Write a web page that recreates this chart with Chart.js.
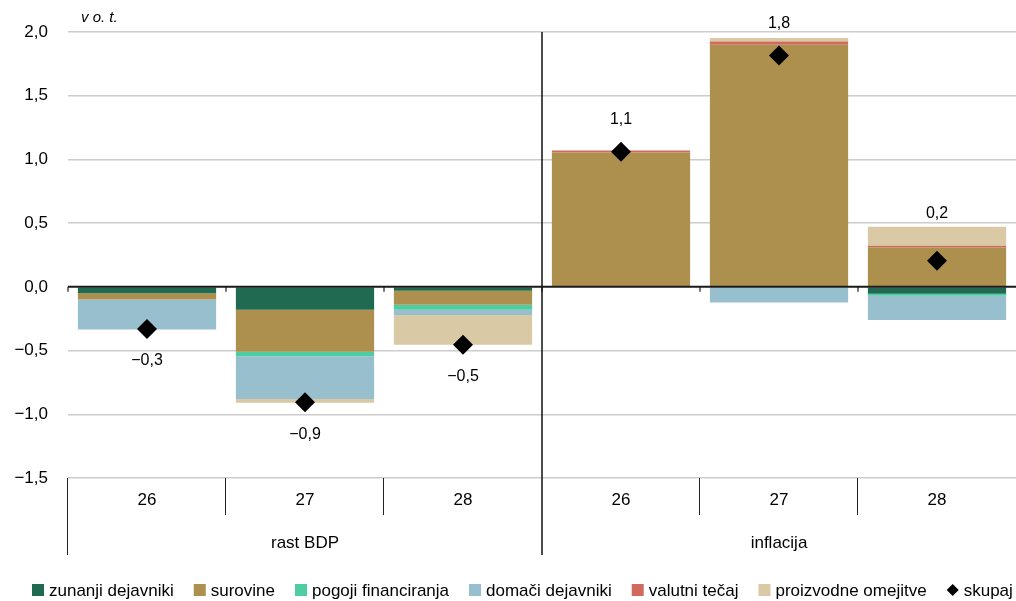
<!DOCTYPE html>
<html><head><meta charset="utf-8">
<script src="https://cdn.jsdelivr.net/npm/chart.js@4.4.1/dist/chart.umd.min.js"></script>
<style>html,body{margin:0;padding:0;background:#fff;overflow:hidden;} #wrap{width:1016px;height:601px;position:relative;}</style>
</head><body><div id="wrap"><canvas id="c"></canvas></div>
<script>
const categories = ['26', '27', '28', '26', '27', '28'];
const groups = ['rast BDP', 'inflacija'];
const yTicks = [-1.5, -1.0, -0.5, 0, 0.5, 1.0, 1.5, 2.0];
const unitLabel = 'v o. t.';

const zunanji    = [-0.05, -0.18,  -0.03,  0,     -0.005, -0.055];
const surovine   = [-0.05, -0.33,  -0.11,  1.055,  1.90,   0.31];
const pogoji     = [ 0,    -0.035, -0.04,  0,      0,     -0.015];
const domaci     = [-0.235,-0.335, -0.04,  0,     -0.118, -0.19];
const valutni    = [ 0,     0,      0,     0.015,  0.026,  0.012];
const proizvodne = [ 0,    -0.03,  -0.235, 0,      0.026,  0.15];
const skupaj     = [-0.33, -0.905, -0.455, 1.06,   1.815,  0.205];

const seriesNames = ['zunanji dejavniki', 'surovine', 'pogoji financiranja', 'domači dejavniki', 'valutni tečaj', 'proizvodne omejitve'];
const seriesColors = ['#1f6a50', '#ae904e', '#4ecda3', '#98bfce', '#d06a5c', '#d9c9a5'];
const totalName = 'skupaj';

const FONT = '"Liberation Sans", Arial, sans-serif';
const fmt = v => (v < -1e-9 ? '\u2212' : '') + Math.abs(v).toFixed(1).replace('.', ',');

const barSeries = [zunanji, surovine, pogoji, domaci, valutni, proizvodne];
const datasets = [{
  type: 'line', label: totalName, data: skupaj, showLine: false, stack: 'pts', order: 0,
  pointStyle: 'rectRot', pointRadius: 10, pointHoverRadius: 10,
  pointBackgroundColor: '#000', pointBorderWidth: 0, borderColor: '#000', backgroundColor: '#000'
}];
barSeries.forEach((d, i) => datasets.push({
  type: 'bar', label: seriesNames[i], data: d, backgroundColor: seriesColors[i],
  borderWidth: 0, stack: 'a', order: 1, categoryPercentage: 1.0, barPercentage: 0.875
}));

function line(ctx, x1, y1, x2, y2) { ctx.beginPath(); ctx.moveTo(x1, y1); ctx.lineTo(x2, y2); ctx.stroke(); }

const overlay = {
  id: 'overlay',
  afterDatasetsDraw(chart) {
    const { ctx, chartArea: a, scales: { x, y } } = chart;
    const catW = x.getPixelForValue(1) - x.getPixelForValue(0);
    const y0 = y.getPixelForValue(0);
    ctx.save();
    ctx.strokeStyle = '#1a1a1a'; ctx.lineWidth = 2;
    line(ctx, a.left, y0, a.right, y0);
    ctx.lineWidth = 1.2;
    for (let i = 0; i < categories.length; i++) {
      const bx = x.getPixelForValue(i) - catW / 2;
      line(ctx, bx, y0, bx, y0 + 5);
    }
    const mid = x.getPixelForValue(3) - catW / 2;
    ctx.lineWidth = 1.5; ctx.strokeStyle = '#111';
    line(ctx, mid, a.top, mid, 555);
    ctx.fillStyle = '#000';
    ctx.font = '16px ' + FONT;
    ctx.textAlign = 'center'; ctx.textBaseline = 'middle';
    skupaj.forEach((v, i) => {
      const px = x.getPixelForValue(i);
      const py = y.getPixelForValue(v);
      let ly;
      if (v >= 0) {
        let pos = 0;
        barSeries.forEach(s => { if (s[i] > 0) pos += s[i]; });
        ly = Math.min(py - 32, y.getPixelForValue(pos) - 13);
      } else {
        ly = py + 32;
      }
      ctx.fillText(fmt(v), px, ly);
    });
    ctx.restore();
  },
  afterDraw(chart) {
    const { ctx, chartArea: a, scales: { x } } = chart;
    const catW = x.getPixelForValue(1) - x.getPixelForValue(0);
    ctx.save();
    ctx.strokeStyle = '#222'; ctx.lineWidth = 1;
    for (let i = 0; i < categories.length; i++) {
      const bx = Math.round(x.getPixelForValue(0) - catW / 2 + i * catW) - 0.5;
      const long = (i % 3 === 0);
      if (i === 3) continue;
      line(ctx, bx, a.bottom, bx, long ? 555 : 515);
    }
    ctx.fillStyle = '#000';
    ctx.textAlign = 'center'; ctx.textBaseline = 'middle';
    ctx.font = '17px ' + FONT;
    categories.forEach((c, i) => ctx.fillText(c, x.getPixelForValue(i), 500));
    groups.forEach((g, gi) => ctx.fillText(g, x.getPixelForValue(gi * 3 + 1), 543));
    ctx.font = 'italic 15px ' + FONT;
    ctx.textAlign = 'left';
    ctx.fillText(unitLabel, 81, 18);
    ctx.font = '17px ' + FONT;
    const items = seriesNames.map((n, i) => ({ n, c: seriesColors[i], d: false }));
    items.push({ n: totalName, c: '#000', d: true });
    const box = 12, gapT = 5, gapI = 20;
    const widths = items.map(it => box + gapT + ctx.measureText(it.n).width);
    let lx = 32;
    const ly = 590;
    items.forEach((it, i) => {
      ctx.fillStyle = it.c;
      if (it.d) {
        ctx.beginPath();
        ctx.moveTo(lx + 6, ly - 6); ctx.lineTo(lx + 12, ly); ctx.lineTo(lx + 6, ly + 6); ctx.lineTo(lx, ly);
        ctx.closePath(); ctx.fill();
      } else {
        ctx.fillRect(lx, ly - 6, box, box);
      }
      ctx.fillStyle = '#000';
      ctx.textAlign = 'left';
      ctx.fillText(it.n, lx + box + gapT, ly + 1);
      lx += widths[i] + gapI;
    });
    ctx.restore();
  }
};

new Chart(document.getElementById('c'), {
  data: { labels: categories, datasets },
  options: {
    responsive: true, maintainAspectRatio: false, animation: false,
    layout: { autoPadding: false, padding: { top: 32, left: 0, right: 0, bottom: 0 } },
    plugins: { legend: { display: false }, tooltip: { enabled: false } },
    scales: {
      x: {
        stacked: true, offset: true,
        ticks: { display: false }, grid: { display: false }, border: { display: false },
        afterFit(s) { s.height = 123; }
      },
      y: {
        stacked: true, min: -1.5, max: 2.0,
        afterBuildTicks(s) { s.ticks = yTicks.map(v => ({ value: v })); },
        afterFit(s) { s.width = 68; },
        ticks: { padding: 20, color: '#000', font: { size: 17, family: FONT }, callback: v => fmt(v) },
        grid: { drawTicks: false, color: c => (c.tick && c.tick.value === 0) ? 'rgba(0,0,0,0)' : '#cccccc', lineWidth: 1.5 },
        border: { display: false }
      }
    }
  },
  plugins: [overlay]
});
</script></body></html>
